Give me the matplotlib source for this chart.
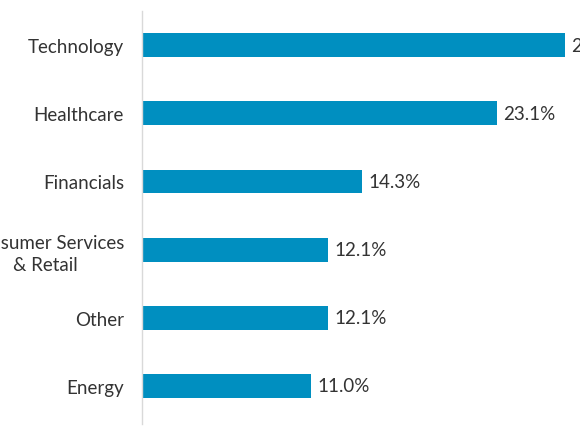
import matplotlib
matplotlib.use('Agg')
import matplotlib.pyplot as plt

plt.rcParams['font.family'] = ['Lato', 'DejaVu Sans']

sectors = ['Technology', 'Healthcare', 'Financials', 'Consumer Services\n& Retail', 'Other', 'Energy']
weights = [27.5, 23.1, 14.3, 12.1, 12.1, 11.0]

fig = plt.figure(figsize=(5.8, 4.35), dpi=100)
ax = fig.add_axes([0.245, 0.023, 0.742, 0.949])

ypos = list(range(len(sectors)))
ax.barh(ypos, weights, height=0.35, color='#008FC0')

for y, w in zip(ypos, weights):
    ax.text(w + 0.4, y, f'{w:.1f}%', va='center', ha='left', fontsize=13.5, color='#333333')

ax.set_yticks(ypos)
ax.set_yticklabels(sectors, fontsize=13.5, color='#333333')
for lbl in ax.get_yticklabels():
    lbl.set_multialignment('center')
    lbl.set_linespacing(1.35)
ax.tick_params(axis='y', length=0, pad=13)
ax.set_xticks([])
ax.set_xlim(0, 28)
ax.set_ylim(5.56, -0.5)

for s in ['top', 'right', 'bottom']:
    ax.spines[s].set_visible(False)
ax.spines['left'].set_color('#d9d9d9')
ax.spines['left'].set_linewidth(1)

fig.savefig('out.png', dpi=100)
